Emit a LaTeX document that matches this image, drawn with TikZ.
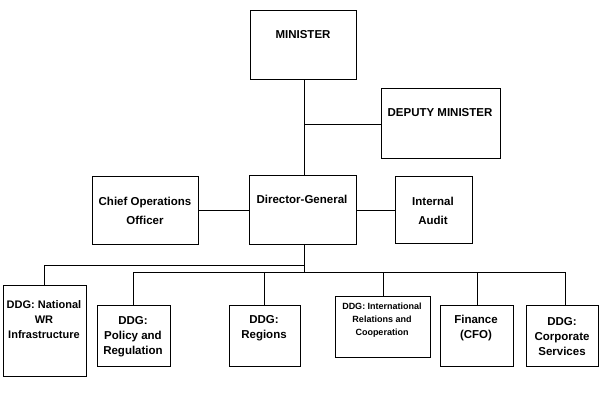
\documentclass[tikz,border=0pt]{standalone}
\usepackage{fontspec}
\setmainfont{Liberation Sans}
\begin{document}
\begin{tikzpicture}[x=1pt,y=-1pt,
  box/.style={draw,line width=0.8pt,inner sep=0pt},
  lbl/.style={font=\bfseries\fontsize{11.5}{15}\selectfont,align=center,inner sep=0pt},
  ln/.style={line width=0.6pt}]
\useasboundingbox (0,0) rectangle (600,400);
\newcommand{\bx}[5]{\node[box,minimum width={(#4-#2)*1pt},minimum height={(#5-#3)*1pt},anchor=north west] (#1) at (#2,#3) {};}
\bx{min}{250}{10}{356}{79}
\bx{dep}{381}{88}{500}{158}
\bx{dg}{249}{175}{356}{244}
\bx{coo}{92}{176}{198}{244}
\bx{aud}{395}{176}{472}{243}
\bx{nat}{3}{285}{86}{376}
\bx{pol}{97}{305}{170}{366}
\bx{reg}{229}{305}{300}{366}
\bx{int}{335}{296}{430}{357}
\bx{fin}{440}{305}{513}{366}
\bx{cor}{526}{305}{598}{366}
\node[lbl] at (303,35) {MINISTER};
\node[lbl] at (440,113) {DEPUTY MINISTER};
\node[lbl] at (302,199) {Director-General};
\node[lbl] at (145,211) {Chief Operations\\[4pt]Officer};
\node[lbl] at (433,211) {Internal\\[4pt]Audit};
\node[lbl,font=\bfseries\fontsize{11}{15}\selectfont] at (44,320) {DDG: National\\WR\\Infrastructure};
\node[lbl] at (133,337) {DDG:\\Policy and\\Regulation};
\node[lbl] at (264,328) {DDG:\\Regions};
\node[lbl,font=\bfseries\fontsize{9}{13}\selectfont] at (382,320) {DDG: International\\Relations and\\Cooperation};
\node[lbl] at (476,328) {Finance\\(CFO)};
\node[lbl] at (562,337) {DDG:\\Corporate\\Services};
\coordinate (j1) at (304,124);
\coordinate (j2) at (304,265);
\coordinate (j3) at (304,272);
\draw[ln] (min.south -| j1) -- (dg.north -| j1);
\draw[ln] (j1) -- (dep.west |- j1);
\draw[ln] (coo.east |- 0,210) -- (dg.west |- 0,210);
\draw[ln] (dg.east |- 0,210) -- (aud.west |- 0,210);
\draw[ln] (dg.south -| j1) -- (j3);
\draw[ln] (j2) -- (44,265) -- (nat.north -| 44,0);
\draw[ln] (133,272) -- (565,272);
\foreach \n/\x in {pol/133,reg/264,int/383,fin/477,cor/565}
  \draw[ln] (\x,272) -- (\n.north -| \x,0);
\end{tikzpicture}
\end{document}
